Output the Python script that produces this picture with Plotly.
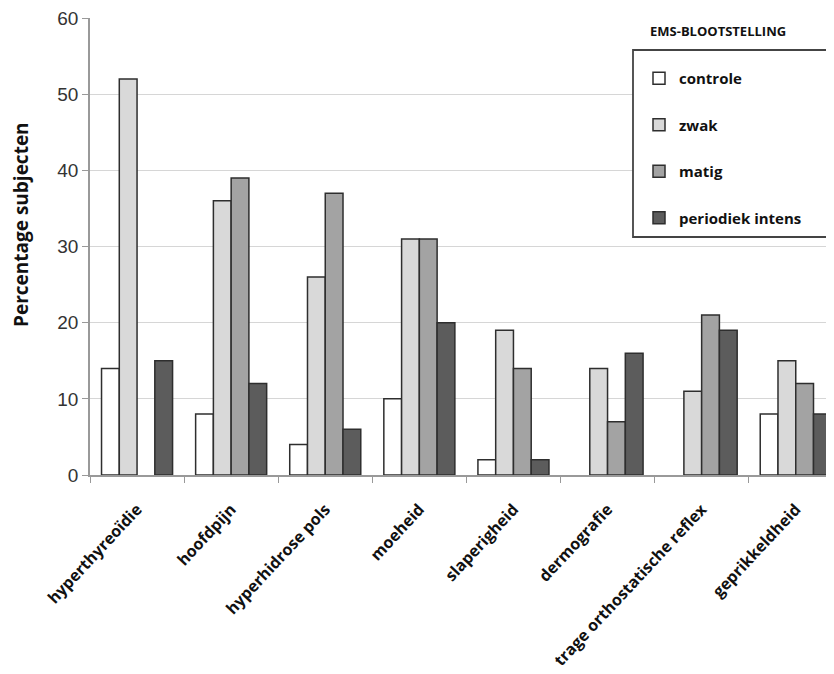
import plotly.graph_objects as go

categories = ["hyperthyreoïdie", "hoofdpijn", "hyperhidrose pols", "moeheid",
              "slaperigheid", "dermografie", "trage orthostatische reflex", "geprikkeldheid"]
series_names = ["controle", "zwak", "matig", "periodiek intens"]
controle = [14, 8, 4, 10, 2, 0, 0, 8]
zwak = [52, 36, 26, 31, 19, 14, 11, 15]
matig = [0, 39, 37, 31, 14, 7, 21, 12]
periodiek_intens = [15, 12, 6, 20, 2, 16, 19, 8]
y_ticks = [0, 10, 20, 30, 40, 50, 60]
legend_title = "EMS-BLOOTSTELLING"
y_title = "Percentage subjecten"

colors = ["#ffffff", "#d9d9d9", "#a3a3a3", "#5c5c5c"]
values = [controle, zwak, matig, periodiek_intens]

# page is rendered with an 8px body margin; work in page pixel coordinates
OFF = 8
W, H = 834 - OFF, 674 - OFF
PL, PT, PB = 90, 18, 475          # plot left / top / bottom in page pixels
L = PL - OFF
T = PT - OFF
B = H - (PB - OFF)
R = 0
pw = W - L - R
ph = H - T - B


def px_x(p):
    return (p - OFF - L) / pw


def px_y(p):
    return (H - B - (p - OFF)) / ph


fig = go.Figure()
for name, vals, col in zip(series_names, values, colors):
    # zero values draw no visible bar in the reference
    shown = [v if v != 0 else None for v in vals]
    fig.add_trace(go.Bar(
        x=categories, y=shown, name=name, legendgroup=name,
        marker=dict(color=col, line=dict(color="#2e2e2e", width=1.5)),
    ))

fig.update_layout(
    width=W, height=H,
    margin=dict(l=L, r=R, t=T, b=B, autoexpand=False),
    paper_bgcolor="white", plot_bgcolor="white",
    barmode="group", bargap=0.245, bargroupgap=0,
    font=dict(family="Open Sans", color="#111"),
    showlegend=True,
    legend=dict(
        x=px_x(639), y=px_y(62), xanchor="left", yanchor="top",
        bgcolor="rgba(0,0,0,0)", borderwidth=0,
        font=dict(family="Open Sans", size=15, color="#111", weight="bold"),
        tracegroupgap=24, traceorder="grouped", itemwidth=30,
    ),
    xaxis=dict(
        range=[-0.5, -0.5 + pw / 94.1], automargin=False,
        tickangle=-47, tickson="boundaries", ticks="outside", ticklen=6,
        tickcolor="#999", showline=True, linecolor="#999", linewidth=1.5,
        ticklabelstandoff=17, ticklabeloverflow="allow",
        tickfont=dict(family="Open Sans", size=16, color="#111", weight="bold"),
        showgrid=False,
    ),
    yaxis=dict(
        range=[0, 60.01], tickvals=y_ticks, ticks="outside", ticklen=6, automargin=False,
        tickcolor="#999", showline=True, linecolor="#999", linewidth=1.5,
        showgrid=True, gridcolor="#d6d6d6", gridwidth=1.2,
        ticklabeloverflow="allow",
        tickfont=dict(family="Liberation Sans", size=19, color="#333"),
        zeroline=False,
    ),
    shapes=[
        dict(type="rect", xref="paper", yref="paper",
             x0=px_x(637), x1=px_x(820), y0=px_y(24), y1=px_y(10),
             fillcolor="white", line=dict(width=0), layer="above"),
        dict(type="rect", xref="paper", yref="paper",
             x0=px_x(633), x1=px_x(850), y0=px_y(237), y1=px_y(50),
             fillcolor="white", line=dict(width=1.8, color="#444"), layer="above"),
    ],
    annotations=[
        dict(text=legend_title, xref="paper", yref="paper",
             x=px_x(648), y=px_y(31), xanchor="left", yanchor="middle",
             showarrow=False, font=dict(family="Open Sans", size=13, color="#111", weight="bold")),
        dict(text=y_title, xref="paper", yref="paper",
             x=px_x(21), y=px_y(225), xanchor="center", yanchor="middle", textangle=-90,
             showarrow=False, font=dict(family="Open Sans", size=19, color="#111", weight="bold")),
    ],
)

fig.write_html("out.html")
